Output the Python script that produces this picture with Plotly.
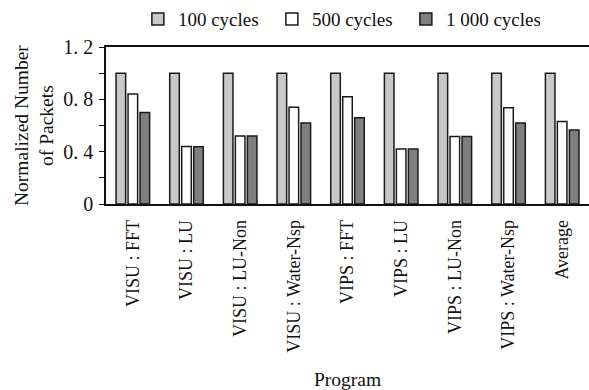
import plotly.graph_objects as go

programs = ["VISU : FFT", "VISU : LU", "VISU : LU-Non", "VISU : Water-Nsp",
            "VIPS : FFT", "VIPS : LU", "VIPS : LU-Non", "VIPS : Water-Nsp", "Average"]
cycles_100 = [1.0, 1.0, 1.0, 1.0, 1.0, 1.0, 1.0, 1.0, 1.0]
cycles_500 = [0.84, 0.44, 0.52, 0.74, 0.82, 0.42, 0.515, 0.735, 0.63]
cycles_1000 = [0.70, 0.438, 0.52, 0.62, 0.66, 0.42, 0.515, 0.62, 0.565]
series_names = ["100 cycles", "500 cycles", "1 000 cycles"]
y_tickvals = [0, 0.2, 0.4, 0.6, 0.8, 1.0, 1.2]
y_ticktext = ["0", "", "0. 4", "", "0. 8", "", "1. 2"]

FONT = "Liberation Serif, Times New Roman, serif"
colors = ["#c8c8c8", "#ffffff", "#7f7f7f"]

fig = go.Figure()
for name, vals, col in zip(series_names, [cycles_100, cycles_500, cycles_1000], colors):
    fig.add_trace(go.Bar(
        x=programs, y=vals, name=name,
        marker=dict(color=col, line=dict(color="#1a1a1a", width=1.5)),
    ))

fig.update_layout(
    width=589, height=390,
    margin=dict(l=106, r=0, t=45, b=186),
    plot_bgcolor="white", paper_bgcolor="white",
    font=dict(family=FONT, size=18, color="#111"),
    barmode="group", bargap=0.33, bargroupgap=0.2,
    showlegend=True,
    legend=dict(orientation="h", x=0.066, xanchor="left", y=1.057, yanchor="bottom",
                yref="paper", entrywidth=89, entrywidthmode="pixels",
                font=dict(family=FONT, size=19), bgcolor="rgba(0,0,0,0)"),
    xaxis=dict(showline=True, linecolor="#111", linewidth=1.5, mirror=True,
               ticks="", tickangle=-90, ticklabelstandoff=7,
               tickfont=dict(family=FONT, size=18),
               title=dict(text="Program", font=dict(family=FONT, size=19.5), standoff=24),
               showgrid=False),
    yaxis=dict(range=[0, 1.2], showline=True, linecolor="#111", linewidth=1.5,
               tickvals=y_tickvals, ticktext=y_ticktext, ticks="outside", ticklen=5,
               tickcolor="#111", tickwidth=1.2, ticklabelstandoff=2,
               tickfont=dict(family=FONT, size=20),
               showgrid=False, zeroline=False),
    annotations=[dict(text="Normalized Number<br>of Packets", textangle=-90,
                      xref="paper", yref="paper", x=(33.5 - 106) / 483, y=0.5,
                      xanchor="center", yanchor="middle", showarrow=False,
                      font=dict(family=FONT, size=19.5))],
)

fig.write_html("out.html", config={"displayModeBar": False},
               post_script="document.body.style.margin='0';document.body.style.overflow='hidden';")
